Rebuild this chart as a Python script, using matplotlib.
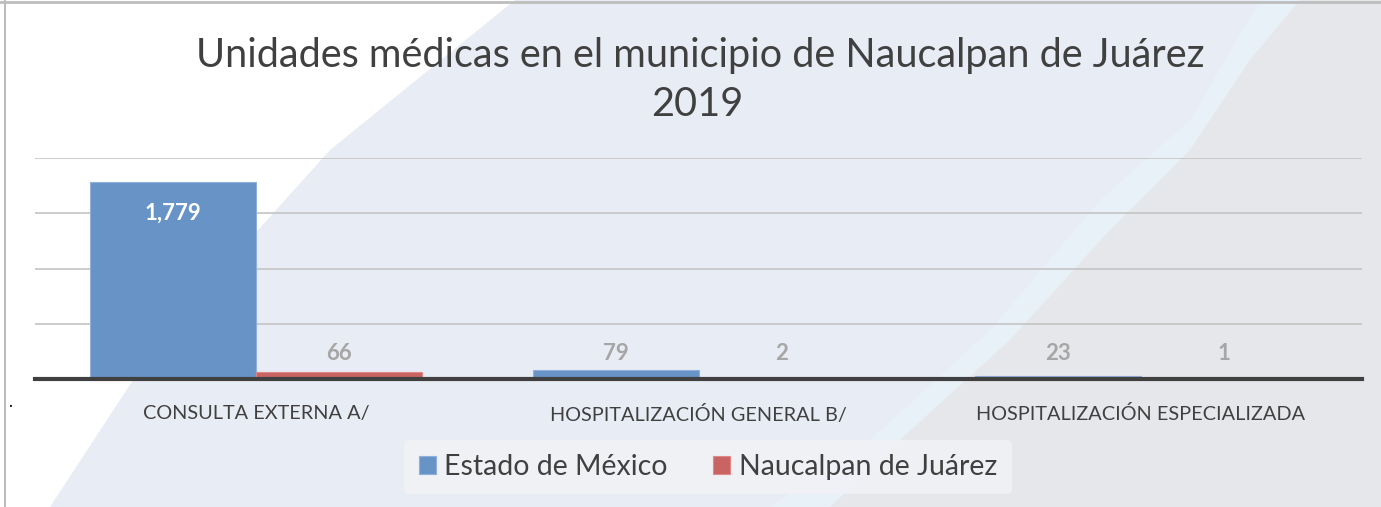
import matplotlib
matplotlib.use("Agg")
import matplotlib.pyplot as plt
import numpy as np
from matplotlib.patches import Polygon
from matplotlib.lines import Line2D

categories = ["CONSULTA EXTERNA A/", "HOSPITALIZACIÓN GENERAL B/", "HOSPITALIZACIÓN ESPECIALIZADA"]
series_names = ["Estado de México", "Naucalpan de Juárez"]
estado = [1779, 79, 23]
naucalpan = [66, 2, 1]
colors = ["#6793C6", "#C96463"]

plt.rcParams["font.family"] = ["Lato", "DejaVu Sans"]

W, H = 1381, 507
fig = plt.figure(figsize=(W / 100, H / 100), dpi=100)
fig.patch.set_facecolor("white")

# background swooshes (pixel coords, y from top)
def px(pts):
    return [(x / W, 1 - y / H) for x, y in pts]

bg = [
    ([(515, 0), (1381, 0), (1381, 507), (50, 507), (133, 380), (240, 250), (330, 150)], "#E8ECF4"),
    ([(1180, 0), (1381, 0), (1381, 507), (770, 507), (870, 440), (990, 330), (1100, 200), (1190, 120), (1260, 0)], "#E8F0F8"),
    ([(1300, 0), (1381, 0), (1381, 507), (830, 507), (900, 440), (1010, 340), (1110, 230), (1190, 150), (1250, 60)], "#E6E7EB"),
]
for pts, c in bg:
    fig.patches.append(Polygon(px(pts), closed=True, transform=fig.transFigure,
                               facecolor=c, edgecolor="none", zorder=-5))
# frame lines
fig.add_artist(Line2D([0, 1], [1 - 1.5 / H, 1 - 1.5 / H], color="#BDBDBD", lw=2, transform=fig.transFigure))
fig.add_artist(Line2D([5 / W, 5 / W], [0, 1], color="#BDBDBD", lw=1.5, transform=fig.transFigure))
fig.text(10 / W, 1 - 402 / H, ".", fontsize=12, color="black", ha="center", va="center")

ax = fig.add_axes([35 / W, (H - 379) / H, (1362 - 35) / W, (379 - 158) / H])
ax.set_facecolor("none")
ax.set_zorder(2)

x = np.arange(len(categories))
bw = 0.375
b1 = ax.bar(x - bw / 2, estado, bw, color=colors[0], edgecolor="#8FB0DA", linewidth=0.8, zorder=3)
b2 = ax.bar(x + bw / 2, naucalpan, bw, color=colors[1], edgecolor="#E08888", linewidth=0.8, zorder=3)

ax.set_xlim(-0.5, 2.5)
ax.set_ylim(0, 2000)
ax.set_yticks([0, 500, 1000, 1500, 2000])
ax.yaxis.grid(True, color="#C4C4C4", lw=1.2, zorder=1)
ax.set_axisbelow(True)
ax.tick_params(axis="y", left=False, labelleft=False)
ax.tick_params(axis="x", bottom=False, pad=15)
ax.set_xticks(x)
ax.set_xticklabels(categories, fontsize=14.3, color="#404040")
for s in ["top", "right", "left"]:
    ax.spines[s].set_visible(False)
ax.spines["bottom"].set_color("#404040")
ax.spines["bottom"].set_linewidth(3)
ax.spines["bottom"].set_zorder(4)

lab_kw = dict(ha="center", va="center", fontsize=16, fontweight="bold", zorder=5)
for xi, v in zip(x - bw / 2, estado):
    if v > 1000:
        ax.annotate(f"{v:,}", (xi, v), xytext=(0, -22), textcoords="offset points", color="white", **lab_kw)
    else:
        ax.annotate(f"{v:,}", (xi, 0), xytext=(0, 18), textcoords="offset points", color="#A6A6A6", **lab_kw)
for xi, v in zip(x + bw / 2, naucalpan):
    ax.annotate(f"{v:,}", (xi, 0), xytext=(0, 18), textcoords="offset points", color="#A6A6A6", **lab_kw)

fig.text(700 / W, 1 - 55 / H, "Unidades médicas en el municipio de Naucalpan de Juárez", ha="center", va="center",
         fontsize=28.5, color="#404040")
fig.text(697 / W, 1 - 105 / H, "2019", ha="center", va="center", fontsize=28.5, color="#404040")

leg = fig.legend([b1, b2], series_names, loc="center", bbox_to_anchor=(708 / W, 1 - 467 / H),
                 ncol=2, frameon=True, fontsize=20.5, handlelength=0.6, handleheight=0.6,
                 handletextpad=0.3, columnspacing=1.6, borderpad=0.5)
leg.get_frame().set_facecolor("#F0F2F6")
leg.get_frame().set_edgecolor("none")
leg.get_frame().set_alpha(0.9)
for t in leg.get_texts():
    t.set_color("#404040")

fig.savefig("out.png", dpi=100)
